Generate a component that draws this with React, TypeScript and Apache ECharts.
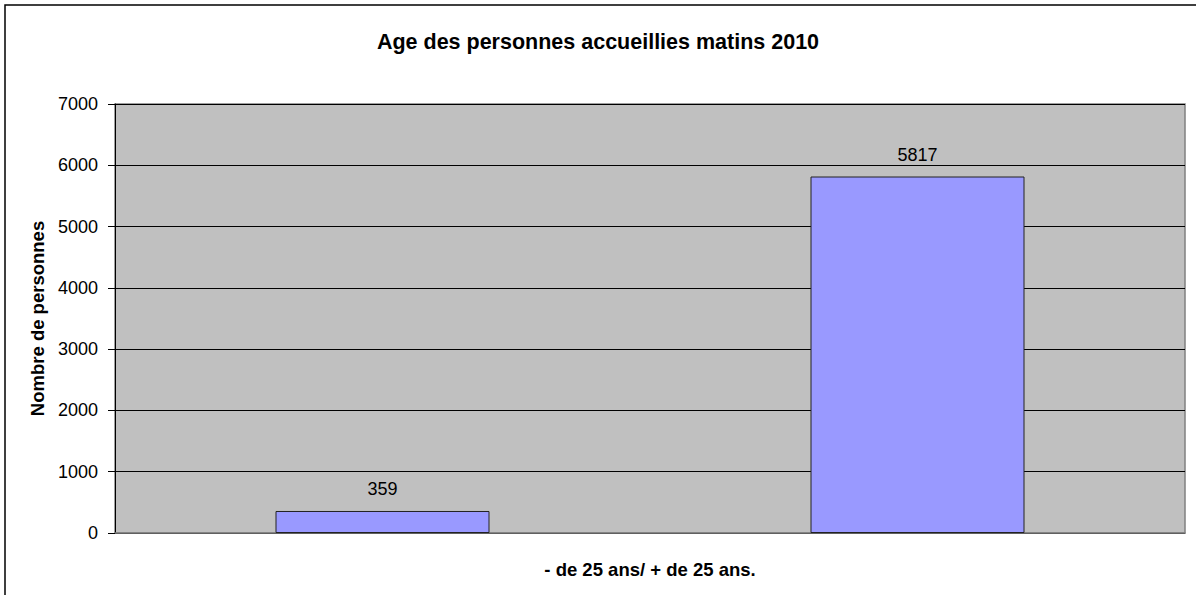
import React, { useEffect, useRef } from "react";
import * as echarts from "echarts";

const categories = ["- de 25 ans", "+ de 25 ans"];
const values = [359, 5817];
const yTicks = [0, 1000, 2000, 3000, 4000, 5000, 6000, 7000];
const titleText = "Age des personnes accueillies matins 2010";
const xAxisTitle = "- de 25 ans/ + de 25 ans.";
const yAxisTitle = "Nombre de personnes";

const FONT = "Arial, 'Liberation Sans', sans-serif";

export default function App() {
  const ref = useRef<HTMLDivElement>(null);
  useEffect(() => {
    if (!ref.current) return;
    const chart = echarts.init(ref.current, undefined, { renderer: "svg" });
    chart.setOption({
      animation: false,
      backgroundColor: "#ffffff",
      title: {
        text: titleText,
        left: "center",
        top: 26,
        textStyle: { fontFamily: FONT, fontSize: 21.5, fontWeight: "bold", color: "#000" },
      },
      graphic: [
        {
          type: "rect",
          shape: { x: 5, y: 5, width: 1300, height: 700 },
          style: { fill: "none", stroke: "#000", lineWidth: 1.5 },
          silent: true,
        },
      ],
      grid: {
        left: 115,
        right: 11,
        top: 104,
        bottom: 62,
        show: true,
        backgroundColor: "#c0c0c0",
        borderColor: "#808080",
        borderWidth: 1.5,
      },
      xAxis: {
        type: "category",
        data: categories,
        name: xAxisTitle,
        nameLocation: "middle",
        nameGap: 27,
        nameTextStyle: { fontFamily: FONT, fontSize: 18.5, fontWeight: "bold", color: "#000" },
        axisLine: { lineStyle: { color: "#808080", width: 1.5 } },
        axisTick: { show: false },
        axisLabel: { show: false },
      },
      yAxis: {
        type: "value",
        min: yTicks[0],
        max: yTicks[yTicks.length - 1],
        interval: 1000,
        name: yAxisTitle,
        nameLocation: "middle",
        nameGap: 67,
        nameTextStyle: { fontFamily: FONT, fontSize: 18.5, fontWeight: "bold", color: "#000" },
        axisLine: { show: true, lineStyle: { color: "#000", width: 1 } },
        axisTick: { show: true, length: 7, lineStyle: { color: "#000" } },
        axisLabel: {
          fontFamily: FONT,
          fontSize: 18,
          color: "#000",
          margin: 17,
          formatter: (v: number) => String(v),
        },
        splitLine: { show: true, lineStyle: { color: "#000", width: 1 } },
      },
      series: [
        {
          type: "bar",
          data: values,
          barWidth: "40%",
          itemStyle: { color: "#9999ff", borderColor: "#222", borderWidth: 1 },
          label: {
            show: true,
            position: "top",
            distance: 13,
            fontFamily: FONT,
            fontSize: 18,
            color: "#000",
          },
        },
      ],
    });
    return () => chart.dispose();
  }, []);
  return (
    <div
      ref={ref}
      style={{ position: "absolute", left: 0, top: 0, width: 1196, height: 595 }}
    />
  );
}
